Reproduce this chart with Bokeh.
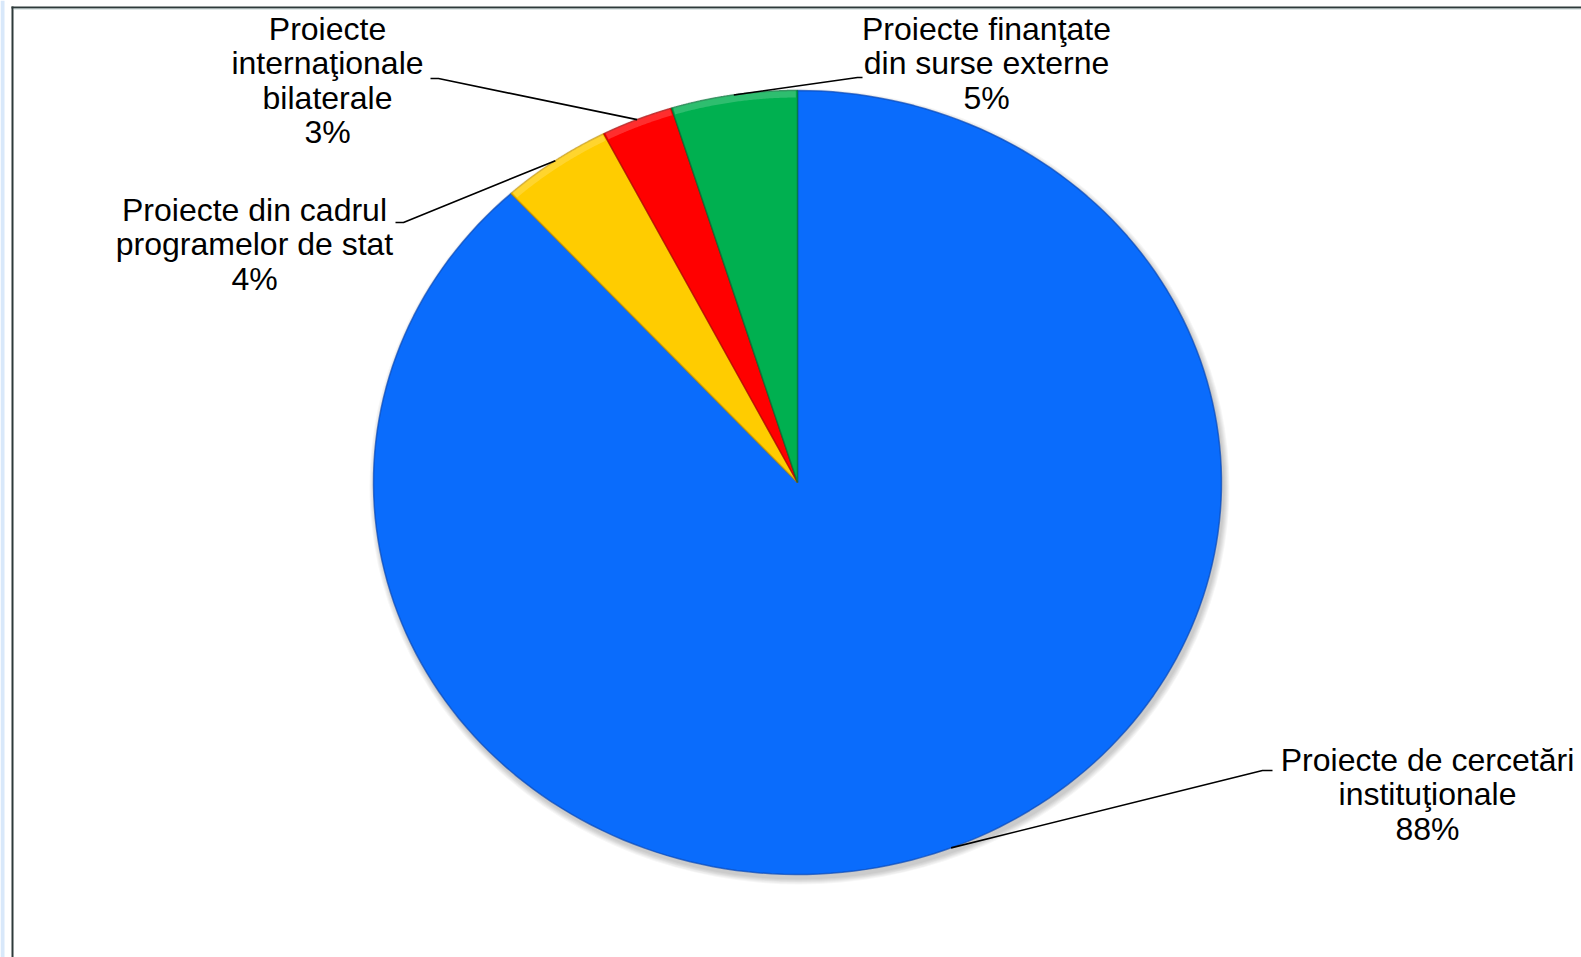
import numpy as np
from bokeh.plotting import figure
from bokeh.models import Range1d, BoxAnnotation, ColumnDataSource
from bokeh.core.properties import value
from bokeh.embed import file_html
from bokeh.resources import INLINE

# ---------------- data ----------------
categories = [
    "Proiecte de cercetări instituţionale",
    "Proiecte din cadrul programelor de stat",
    "Proiecte internaţionale bilaterale",
    "Proiecte finanţate din surse externe",
]
label_lines = [
    ["Proiecte de cercetări", "instituţionale"],
    ["Proiecte din cadrul", "programelor de stat"],
    ["Proiecte", "internaţionale", "bilaterale"],
    ["Proiecte finanţate", "din surse externe"],
]
shares = [88.2, 4.25, 2.75, 4.8]
percent_labels = ["88%", "4%", "3%", "5%"]
colors = ["#0A6CFC", "#FFCC00", "#FF0000", "#00B050"]
edge_colors = ["#0848B8", "#C89600", "#A80000", "#007034"]

# ---------------- layout (screen pixels) ----------------
W, H = 1581, 957
CX, CY, RX, RY = 797, 482, 424, 392
label_first_baseline = [(1427, 759), (254, 209), (327, 28), (986, 28)]
elbows = [((1262, 770), (1272, 770)), ((403, 222), (395, 222)),
          ((438, 78), (430, 78)), ((857, 77), (862, 77))]
LINE_STEP = 34.6
FONT = "Liberation Sans"
FONT_SIZE = "32px"

p = figure(width=W, height=H, x_range=Range1d(0, W), y_range=Range1d(H, 0),
           output_backend="svg", toolbar_location=None, min_border=0,
           background_fill_color="white", border_fill_color="white")
p.axis.visible = False
p.grid.visible = False
p.outline_line_color = None

# frame decorations
p.add_layout(BoxAnnotation(left=0, right=4, top=0, bottom=H, fill_color="#D8E8FA",
                           fill_alpha=1, line_color=None))
p.add_layout(BoxAnnotation(left=11, right=13, top=6, bottom=H, fill_color="#2E3A3A",
                           fill_alpha=1, line_color=None))
p.add_layout(BoxAnnotation(left=11, right=W, top=6, bottom=8, fill_color="#2E3A3A",
                           fill_alpha=1, line_color=None))
p.add_layout(BoxAnnotation(left=13, right=W, top=8, bottom=9, fill_color="#B0C4C4",
                           fill_alpha=0.8, line_color=None))

# soft shadow
for k in range(1, 7):
    p.ellipse(x=CX + 2, y=CY + 4, width=2 * RX + 2 * k, height=2 * RY + 2 * k,
              fill_color="black", fill_alpha=0.035, line_color=None)

# wedges from cumulative shares (clockwise from 12 o'clock)
total = sum(shares)
bounds = np.concatenate([[0], np.cumsum(shares)]) / total * 2 * np.pi
xs, ys, mids = [], [], []
for i in range(len(shares)):
    t = np.linspace(bounds[i], bounds[i + 1], 200)
    xs.append(list(np.concatenate([[CX], CX + RX * np.sin(t), [CX]])))
    ys.append(list(np.concatenate([[CY], CY - RY * np.cos(t), [CY]])))
    mids.append((bounds[i] + bounds[i + 1]) / 2)

src = ColumnDataSource(dict(xs=xs, ys=ys, color=colors, edge=edge_colors, cat=categories))
p.patches("xs", "ys", source=src, fill_color="color", line_color="edge",
          line_width=1.5, line_alpha=0.7)

# subtle bevel highlight along outer rim of small slices
for i in range(1, len(shares)):
    t = np.linspace(bounds[i] + 0.004, bounds[i + 1] - 0.004, 80)
    ox = CX + RX * np.sin(t)
    oy = CY - RY * np.cos(t)
    ix = CX + (RX - 7) * np.sin(t[::-1])
    iy = CY - (RY - 7) * np.cos(t[::-1])
    p.patch(list(np.concatenate([ox, ix])), list(np.concatenate([oy, iy])),
            fill_color="white", fill_alpha=0.18, line_color=None)

# leader lines and labels
for i in range(len(shares)):
    m = mids[i]
    sx = CX + RX * np.sin(m)
    sy = CY - RY * np.cos(m)
    (ex, ey), (hx, hy) = elbows[i]
    p.line([sx, ex, hx], [sy, ey, hy], line_color="black", line_width=1.6)
    lines = label_lines[i] + [percent_labels[i]]
    bx, by = label_first_baseline[i]
    p.text(x=[bx] * len(lines), y=[by + j * LINE_STEP for j in range(len(lines))],
           text=lines, text_align="center", text_baseline="alphabetic",
           text_font=value(FONT), text_font_size=FONT_SIZE, text_color="black")

open("out.html", "w").write(file_html(p, INLINE))
